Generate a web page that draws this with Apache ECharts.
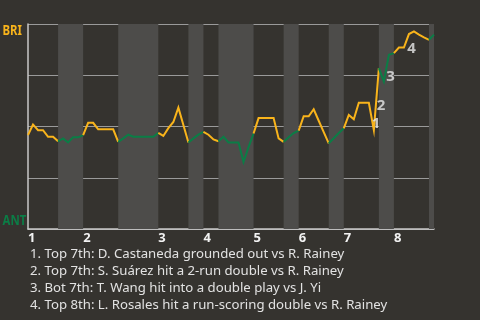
<!DOCTYPE html>
<html>
<head>
<meta charset="utf-8">
<script src="https://cdn.jsdelivr.net/npm/echarts@6/dist/echarts.min.js"></script>
<style>
html,body{margin:0;padding:0;background:#35332f;}
#chart{width:480px;height:320px;}
</style>
</head>
<body>
<div id="chart"></div>
<script>
// ---- data ----
const teamTop = 'BRI';
const teamBottom = 'ANT';
const inningStarts = [0, 11, 26, 35, 45, 54, 63, 73];
const inningLabels = ['1', '2', '3', '4', '5', '6', '7', '8'];
const bottomHalfStart = [6, 18, 32, 38, 51, 60, 70, 80];
const bottomHalfEnd = [11, 26, 35, 45, 54, 63, 73, 81];
const lastPlay = 81;
// BRI win probability (%) after each play, play 0..81
const briWinPct = [
  45.8, 51.0, 48.2, 48.2, 45.0, 45.0, 42.8, 44.2, 42.2, 44.7,
  44.7, 45.8, 51.8, 51.8, 48.6, 48.6, 48.6, 48.6, 42.5, 44.2,
  46.0, 45.0, 45.0, 45.0, 45.0, 45.0, 46.9, 45.4, 49.2, 52.2,
  59.2, 50.7, 42.2, 44.2, 46.0, 47.4, 46.0, 43.7, 42.8, 45.0,
  42.2, 42.2, 42.2, 32.7, 39.9, 46.6, 54.1, 54.1, 54.1, 54.1,
  44.2, 42.5, 44.8, 46.8, 48.0, 55.0, 55.0, 58.4, 52.8, 47.3,
  41.8, 44.3, 46.8, 49.1, 55.6, 53.5, 61.6, 61.6, 61.6, 48.2,
  78.5, 71.9, 85.0, 85.8, 88.5, 88.5, 95.1, 96.4, 94.8, 93.5,
  92.3, 94.8
];
const eventLabels = ['1', '2', '3', '4'];
const eventX = [69.43, 70.41, 72.33, 76.52];
const eventPct = [51.3, 59.9, 74.3, 87.7];
const eventTexts = [
  '1. Top 7th: D. Castaneda grounded out vs R. Rainey',
  '2. Top 7th: S. Suárez hit a 2-run double vs R. Rainey',
  '3. Bot 7th: T. Wang hit into a double play vs J. Yi',
  '4. Top 8th: L. Rosales hit a run-scoring double vs R. Rainey'
];
const teamLabelValues = [96.7, 3.8];

// ---- styling ----
const YELLOW = '#f9b41b';
const GREEN = '#0b7d46';
const BAND = '#4d4c4a';

// half-inning segments: [from, to, color]
const segments = [];
let prev = 0;
for (let i = 0; i < bottomHalfStart.length; i++) {
  segments.push([prev, bottomHalfStart[i], YELLOW]);
  segments.push([bottomHalfStart[i], bottomHalfEnd[i], GREEN]);
  prev = bottomHalfEnd[i];
}

const bands = bottomHalfStart.map((s, i) => [{xAxis: s}, {xAxis: bottomHalfEnd[i]}]);

const lineSeries = segments.map((seg, k) => {
  const pts = [];
  for (let p = seg[0]; p <= seg[1]; p++) pts.push([p, briWinPct[p]]);
  const s = {
    type: 'line', data: pts, symbol: 'none', showSymbol: false,
    lineStyle: {width: 2, color: seg[2], join: 'miter'}, itemStyle: {color: seg[2]}, z: 3
  };
  if (k === 0) s.markArea = {silent: true, itemStyle: {color: BAND}, data: bands, z: 1};
  return s;
});

const GRID = {left: 28, top: 24, width: 406, height: 205};

const chart = echarts.init(document.getElementById('chart'), null, {renderer: 'canvas'});
chart.setOption({
  backgroundColor: '#35332f',
  animation: false,
  grid: Object.assign({containLabel: false}, GRID),
  xAxis: {
    type: 'value', min: 0, max: lastPlay,
    axisLine: {show: true, lineStyle: {color: '#c9c9c9', width: 1.5}},
    axisTick: {show: false},
    splitLine: {show: false},
    axisLabel: {
      customValues: inningStarts,
      formatter: v => inningLabels[inningStarts.indexOf(v)] || '',
      color: '#f2f2f2', fontWeight: 'bold', fontSize: 13,
      fontFamily: 'Noto Sans', align: 'left', margin: 3
    }
  },
  yAxis: {
    type: 'value', min: 0, max: 100, interval: 25,
    axisLine: {show: true, lineStyle: {color: '#c9c9c9', width: 1.5}},
    axisTick: {show: false},
    splitLine: {show: true, lineStyle: {color: '#9a9a9a', width: 1}},
    axisLabel: {show: false}
  },
  series: lineSeries.concat([
    {
      type: 'scatter', symbolSize: 0, z: 5,
      data: eventX.map((x, i) => [x, eventPct[i], eventLabels[i]]),
      label: {
        show: true, position: 'inside', formatter: p => p.data[2],
        color: '#e8e8e8', fontWeight: 'bold', fontSize: 15, fontFamily: 'Noto Sans'
      }
    }
  ])
});

// team labels on the y axis (condensed bold text) placed through the axis scale
const teamNames = [teamTop, teamBottom];
const teamColors = [YELLOW, GREEN];
const teamGraphics = teamLabelValues.map((v, i) => {
  const py = chart.convertToPixel({yAxisIndex: 0}, v);
  return {
    type: 'text', x: 2.5, y: py, scaleX: 0.76,
    style: {
      text: teamNames[i], fill: teamColors[i],
      font: 'bold 15px "Noto Sans"',
      verticalAlign: 'middle'
    }
  };
});
chart.setOption({
  graphic: teamGraphics.concat([{
    type: 'text', left: 30, top: 246,
    style: {
      text: eventTexts.join('\n'), fill: '#e2e2e2',
      font: '13.2px "Noto Sans"', lineHeight: 17
    }
  }])
});
</script>
</body>
</html>
